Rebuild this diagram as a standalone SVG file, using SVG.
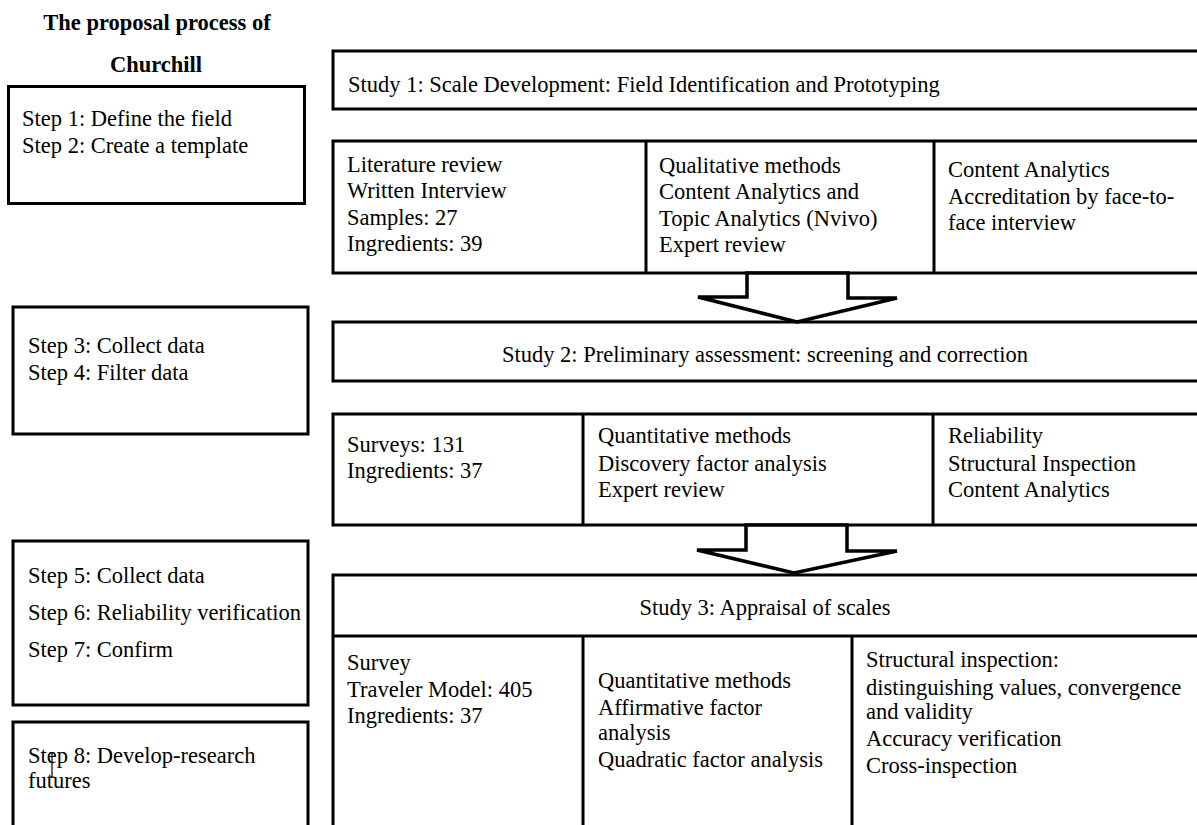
<svg xmlns="http://www.w3.org/2000/svg" width="1197" height="825" viewBox="0 0 1197 825">
<style>
text{font-family:"Liberation Serif","Times New Roman",serif;font-size:22.5px;fill:#000}
.b{font-weight:bold}
.c{text-anchor:middle}
.box{fill:#fff;stroke:#000;stroke-width:3}
.ln{stroke:#000;stroke-width:3;fill:none}
.arr{fill:#fff;stroke:#000;stroke-width:3.5;stroke-linejoin:miter}
</style>
<rect width="1197" height="825" fill="#fff"/>
<g id="title">
<text class="b c" x="157" y="30">The proposal process of</text>
<text class="b c" x="156" y="72">Churchill</text>
</g>
<g id="step1-2">
<rect class="box" x="8.5" y="86.5" width="296" height="117"/>
<text x="22" y="126">Step 1: Define the field</text>
<text x="22" y="153">Step 2: Create a template</text>
</g>
<g id="step3-4">
<rect class="box" x="13" y="307" width="295" height="127"/>
<text x="28" y="353">Step 3: Collect data</text>
<text x="28" y="380">Step 4: Filter data</text>
</g>
<g id="step5-7">
<rect class="box" x="13" y="541" width="295" height="164"/>
<text x="28" y="583">Step 5: Collect data</text>
<text x="28" y="620">Step 6: Reliability verification</text>
<text x="28" y="657">Step 7: Confirm</text>
</g>
<g id="step8">
<rect class="box" x="13" y="722" width="295" height="130"/>
<text x="28" y="763">Step 8: Develop-research</text>
<text x="28" y="788">futures</text>
<path d="M52 753v24M49.5 753h5M49.5 777h5" stroke="#000" stroke-width="1.2" fill="none"/>
</g>
<g id="study1-header">
<rect class="box" x="333" y="51" width="880" height="58"/>
<text x="348" y="92">Study 1: Scale Development: Field Identification and Prototyping</text>
</g>
<g id="study1-detail">
<rect class="box" x="333" y="141" width="880" height="132"/>
<line class="ln" x1="646" y1="141" x2="646" y2="273"/>
<line class="ln" x1="934" y1="141" x2="934" y2="273"/>
<text x="347" y="172">Literature review</text>
<text x="347" y="198">Written Interview</text>
<text x="347" y="225">Samples: 27</text>
<text x="347" y="251">Ingredients: 39</text>
<text x="659" y="173">Qualitative methods</text>
<text x="659" y="199">Content Analytics and</text>
<text x="659" y="226">Topic Analytics (Nvivo)</text>
<text x="659" y="252">Expert review</text>
<text x="948" y="177">Content Analytics</text>
<text x="948" y="204">Accreditation by face-to-</text>
<text x="948" y="230">face interview</text>
</g>
<g id="study2-header">
<rect class="box" x="333" y="322" width="880" height="59"/>
<text class="c" x="765" y="362">Study 2: Preliminary assessment: screening and correction</text>
</g>
<g id="study2-detail">
<rect class="box" x="333" y="414" width="880" height="111"/>
<line class="ln" x1="583" y1="414" x2="583" y2="525"/>
<line class="ln" x1="933" y1="414" x2="933" y2="525"/>
<text x="347" y="452">Surveys: 131</text>
<text x="347" y="478">Ingredients: 37</text>
<text x="598" y="443">Quantitative methods</text>
<text x="598" y="471">Discovery factor analysis</text>
<text x="598" y="497">Expert review</text>
<text x="948" y="443">Reliability</text>
<text x="948" y="471">Structural Inspection</text>
<text x="948" y="497">Content Analytics</text>
</g>
<g id="study3">
<rect class="box" x="333" y="575" width="880" height="280"/>
<line class="ln" x1="333" y1="636" x2="1213" y2="636"/>
<line class="ln" x1="583" y1="636" x2="583" y2="830" stroke-width="4"/>
<line class="ln" x1="852" y1="636" x2="852" y2="830"/>
<text class="c" x="765" y="615">Study 3: Appraisal of scales</text>
<text x="347" y="670">Survey</text>
<text x="347" y="697">Traveler Model: 405</text>
<text x="347" y="723">Ingredients: 37</text>
<text x="598" y="688">Quantitative methods</text>
<text x="598" y="715">Affirmative factor</text>
<text x="598" y="740">analysis</text>
<text x="598" y="767">Quadratic factor analysis</text>
<text x="866" y="667">Structural inspection:</text>
<text x="866" y="695">distinguishing values, convergence</text>
<text x="866" y="719">and validity</text>
<text x="866" y="746">Accuracy verification</text>
<text x="866" y="773">Cross-inspection</text>
</g>
<g id="connectors">
<polygon class="arr" points="747,273 747,297 698,297 797,322 897,298 848,298 848,273"/>
<polygon class="arr" points="746,525 746,550 697,550 794,573 897,551 847,551 847,525"/>
</g>
</svg>
